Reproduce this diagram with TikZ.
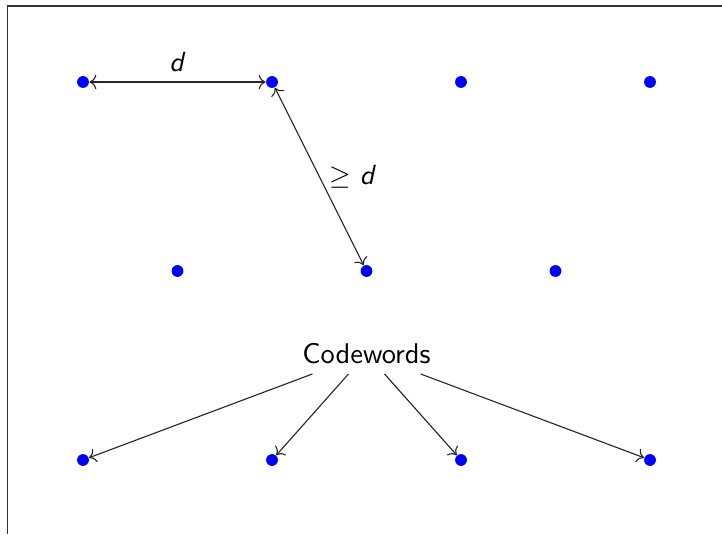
\documentclass[tikz,border=0pt]{standalone}
\usepackage{tikz}
\usetikzlibrary{positioning,arrows.meta}
\usepackage{amsmath}
\usepackage{amssymb}
\definecolor{dotblue}{HTML}{0000FF}

\begin{document}
\begin{tikzpicture}[
  font=\sffamily,
  cw/.style={circle, fill=dotblue, inner sep=0pt, minimum size=0.15cm},
  dist/.style={<->, draw=black!85},
  pointer/.style={->, draw=black!85},
]

% fixed canvas, with the partly cut frame
\useasboundingbox (-1.054,-5.740) rectangle (8.114,1.041);
\draw[black!80, semithick] (-0.96,-5.740) |- (8.114,0.965);

% Row 1
\node[cw] (a1) at (0, 0) {};
\node[cw] (a2) at (2.4, 0) {};
\node[cw] (a3) at (4.8, 0) {};
\node[cw] (a4) at (7.2, 0) {};

% Row 2 (shifted by half a step)
\node[cw] (b1) at (1.2, -2.4) {};
\node[cw] (b2) at (3.6, -2.4) {};
\node[cw] (b3) at (6.0, -2.4) {};

% Row 3
\node[cw] (c1) at (0, -4.8) {};
\node[cw] (c2) at (2.4, -4.8) {};
\node[cw] (c3) at (4.8, -4.8) {};
\node[cw] (c4) at (7.2, -4.8) {};

% Distances
\draw[dist] (a1) -- node[above, text=black] {\textit{d}} (a2);
\draw[dist] (a2) -- node[right, text=black] {$\geq$ \textit{d}} (b2);

% Label pointing at the bottom row
\node[scale=1.03] (label) at (3.6, -3.45) {Codewords};
\draw[pointer] (label) -- (c1);
\draw[pointer] (label) -- (c2);
\draw[pointer] (label) -- (c3);
\draw[pointer] (label) -- (c4);

\end{tikzpicture}
\end{document}
